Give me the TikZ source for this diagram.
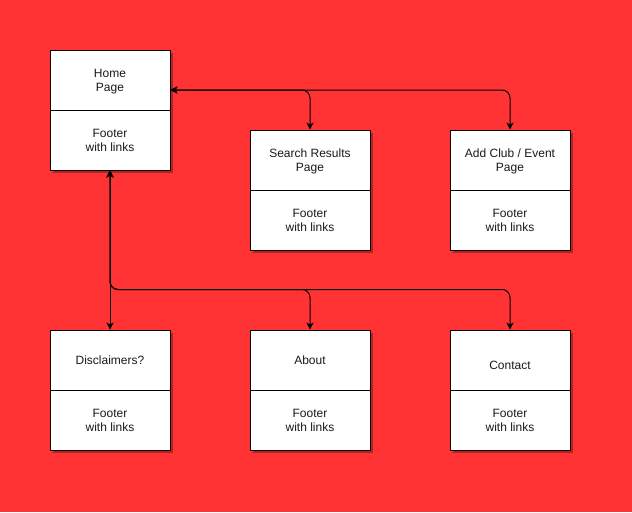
\documentclass[tikz,border=0pt]{standalone}
\usepackage{fontspec}
\setmainfont{Liberation Sans}
\usetikzlibrary{arrows.meta,shadows}
\definecolor{bg}{HTML}{FF3333}
\definecolor{txt}{HTML}{1A1A1A}
\newcommand\twolines[2]{\raisebox{-2pt}[\height][\depth]{\begin{tabular}{@{}c@{}}#1\\#2\end{tabular}}}
\begin{document}
\begin{tikzpicture}[x=1pt,y=-1pt,
  >={Stealth[length=7pt,width=7pt,inset=2pt]},
  half/.style={draw=black,line width=1pt,fill=white,minimum width=120pt,minimum height=60pt,
    inner sep=0pt,align=center,font=\fontsize{12}{14}\selectfont,text=txt,
    drop shadow={shadow xshift=3pt,shadow yshift=-3pt,opacity=0.3,fill=black}},
  link/.style={draw=black,line width=1pt,rounded corners=8pt,<->}
]
\fill[bg] (0,0) rectangle (632,512);
\useasboundingbox (0,0) rectangle (632,512);

\node[half] (home) at (110,80) {\twolines{Home}{Page}};
\node[half] (homef) at (110,140) {\twolines{Footer}{with links}};
\node[half] (search) at (310,160) {\twolines{Search Results}{Page}};
\node[half] (searchf) at (310,220) {\twolines{Footer}{with links}};
\node[half] (add) at (510,160) {\twolines{Add Club / Event}{Page}};
\node[half] (addf) at (510,220) {\twolines{Footer}{with links}};
\node[half] (disc) at (110,360) {Disclaimers?};
\node[half] (discf) at (110,420) {\twolines{Footer}{with links}};
\node[half] (about) at (310,360) {About};
\node[half] (aboutf) at (310,420) {\twolines{Footer}{with links}};
\node[half] (contact) at (510,360) {\raisebox{-5pt}[\height][\depth]{Contact}};
\node[half] (contactf) at (510,420) {\twolines{Footer}{with links}};

\draw[link] (search.north) |- ([yshift=-10pt]home.east);
\draw[link] (add.north) |- ([yshift=-10pt]home.east);
\draw[link] (homef.south) -- (disc.north);
\draw[link] (about.north) -- ++(0,-40) -| (homef.south);
\draw[link] (contact.north) -- ++(0,-40) -| (homef.south);
\end{tikzpicture}
\end{document}
